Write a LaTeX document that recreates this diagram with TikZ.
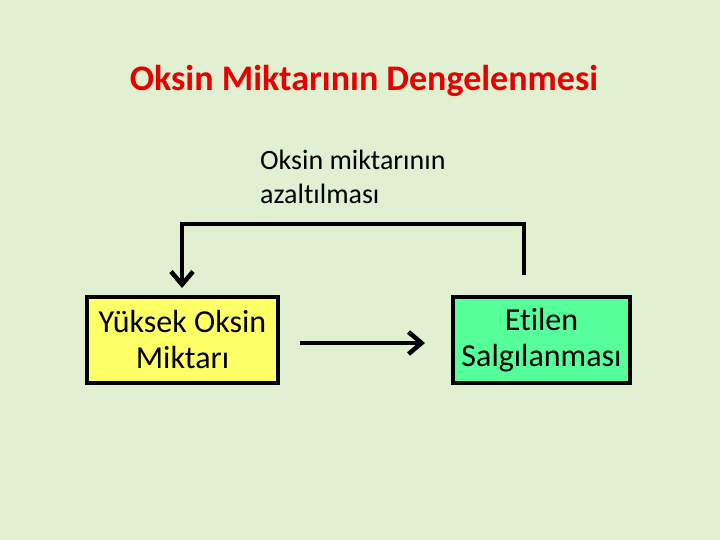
\documentclass[tikz,border=0pt]{standalone}
\usepackage{fontspec}
\setmainfont{Carlito}[Ligatures=NoCommon]
\usetikzlibrary{arrows.meta}
\definecolor{bg}{RGB}{224,240,208}
\definecolor{ttl}{RGB}{230,0,0}
\definecolor{yel}{RGB}{255,255,102}
\definecolor{grn}{RGB}{85,255,153}
\tikzset{
  box/.style={draw=black, line width=3.5pt, minimum height=86pt, align=center, font=\fontsize{32}{36}\selectfont, inner sep=0pt},
  conn/.style={line width=4pt, -{Straight Barb[length=13pt,width=22pt,line width=4.5pt]}},
}
\begin{document}
\begin{tikzpicture}[x=1pt,y=-1pt]
\fill[bg] (0,0) rectangle (720,540);
\useasboundingbox (0,0) rectangle (720,540);
\node[font=\fontsize{36}{42}\selectfont\bfseries, text=ttl, anchor=base, inner sep=0pt] (title) at (364,91) {Oksin Miktarının Dengelenmesi};
\node[font=\fontsize{28}{34}\selectfont, align=left, anchor=base west, inner sep=0pt] (lbl) at (260,204) {Oksin miktarının\\azaltılması};
\node[box, fill=yel, minimum width=191pt] (yb) at (182.5,340) {Yüksek Oksin\\Miktarı};
\node[box, fill=grn, minimum width=177pt] (gb) at (541.5,340) {Etilen\\Salgılanması};
\coordinate (s) at (300,343);
\coordinate (e) at (425,343);
\draw[conn] (s) -- (e);
\coordinate (up) at (524,275);
\draw[conn] (up) -- (524,224) -- (182,224) -- (182,288);
\end{tikzpicture}
\end{document}
